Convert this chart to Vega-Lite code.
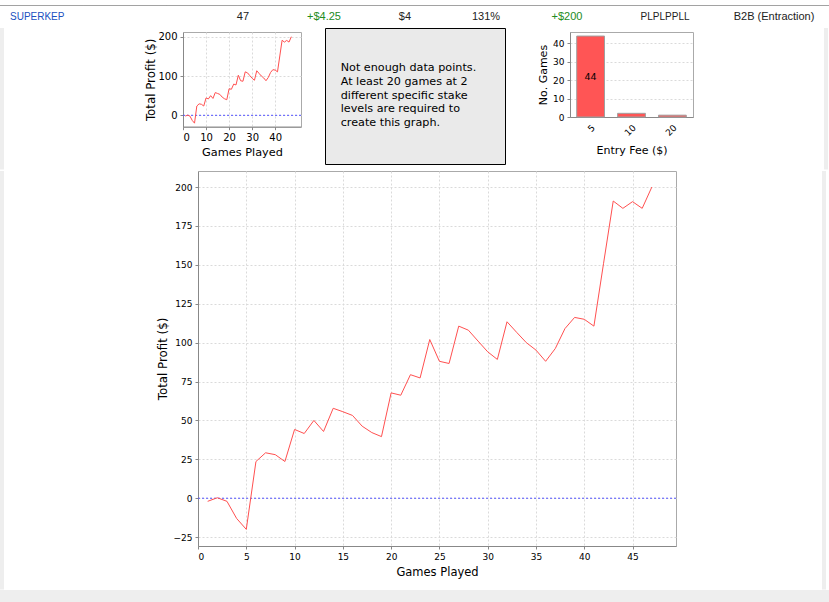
{
  "$schema": "https://vega.github.io/schema/vega-lite/v6.json",
  "background": "white",
  "padding": {"left": 0, "top": 5, "right": 0, "bottom": 0},
  "autosize": {"type": "pad"},
  "bounds": "full",
  "spacing": 0,
  "datasets": {
    "header": [
      {"column": "Player", "value": "SUPERKEP"},
      {"column": "Games", "value": "47"},
      {"column": "Avg Profit", "value": "+$4.25"},
      {"column": "Avg Stake", "value": "$4"},
      {"column": "Avg ROI", "value": "131%"},
      {"column": "Total Profit", "value": "+$200"},
      {"column": "Streak", "value": "PLPLPPLL"},
      {"column": "Site", "value": "B2B (Entraction)"}
    ],
    "msg": [
      {"message": "Not enough data points.\nAt least 20 games at 2\ndifferent specific stake\nlevels are required to\ncreate this graph."}
    ],
    "fees": [
      {"fee": 5, "games": 44},
      {"fee": 10, "games": 2},
      {"fee": 20, "games": 1}
    ],
    "profit": [
      {"game": 1, "profit": -2},
      {"game": 2, "profit": 0.3},
      {"game": 3, "profit": -2},
      {"game": 4, "profit": -13},
      {"game": 5, "profit": -20},
      {"game": 6, "profit": 23.6},
      {"game": 7, "profit": 29.2},
      {"game": 8, "profit": 28},
      {"game": 9, "profit": 23.6},
      {"game": 10, "profit": 44.2},
      {"game": 11, "profit": 41.6},
      {"game": 12, "profit": 50},
      {"game": 13, "profit": 42.9},
      {"game": 14, "profit": 57.8},
      {"game": 15, "profit": 55.6},
      {"game": 16, "profit": 53.2},
      {"game": 17, "profit": 46.3},
      {"game": 18, "profit": 42.2},
      {"game": 19, "profit": 39.6},
      {"game": 20, "profit": 67.7},
      {"game": 21, "profit": 66.2},
      {"game": 22, "profit": 79.4},
      {"game": 23, "profit": 77.3},
      {"game": 24, "profit": 102},
      {"game": 25, "profit": 88},
      {"game": 26, "profit": 86.6},
      {"game": 27, "profit": 110.6},
      {"game": 28, "profit": 108},
      {"game": 29, "profit": 101},
      {"game": 30, "profit": 94.1},
      {"game": 31, "profit": 89.2},
      {"game": 32, "profit": 113.4},
      {"game": 33, "profit": 106.6},
      {"game": 34, "profit": 100},
      {"game": 35, "profit": 95.2},
      {"game": 36, "profit": 88},
      {"game": 37, "profit": 96.2},
      {"game": 38, "profit": 109},
      {"game": 39, "profit": 116.2},
      {"game": 40, "profit": 115},
      {"game": 41, "profit": 110.6},
      {"game": 42, "profit": 151},
      {"game": 43, "profit": 191},
      {"game": 44, "profit": 186.3},
      {"game": 45, "profit": 190.6},
      {"game": 46, "profit": 186.3},
      {"game": 47, "profit": 200}
    ]
  },
  "vconcat": [
    {
      "width": 829,
      "height": 22,
      "data": {"name": "header"},
      "layer": [
        {
          "transform": [{"filter": "datum.column === 'Player'"}],
          "mark": {"type": "text", "align": "left", "baseline": "middle", "dx": 10, "dy": 0.75, "font": "Liberation Sans", "fontSize": 10, "color": "#2050C0"},
          "encoding": {
            "x": {"field": "column", "type": "nominal", "scale": {"type": "point", "padding": 0, "align": 0, "round": false}, "axis": null},
            "text": {"field": "value"}
          }
        },
        {
          "transform": [{"filter": {"field": "column", "oneOf": ["Games", "Avg Profit", "Avg Stake", "Avg ROI", "Total Profit"]}}],
          "mark": {"type": "text", "align": "center", "baseline": "middle", "dy": 0.75, "font": "Liberation Sans", "fontSize": 11},
          "encoding": {
            "x": {"field": "column", "type": "nominal", "scale": {"type": "point", "domain": ["_a", "_b", "Games", "Avg Profit", "Avg Stake", "Avg ROI", "Total Profit", "_c", "_d", "_e"], "padding": 0.617, "align": 0.81, "round": false},
              "axis": {"orient": "top", "labels": false, "ticks": false, "title": null, "grid": false, "domainDash": [1, 1], "domainColor": "#444444", "domainWidth": 1}},
            "color": {"field": "column", "type": "nominal", "scale": {"domain": ["Games", "Avg Profit", "Avg Stake", "Avg ROI", "Total Profit"], "range": ["#222222", "#228B22", "#222222", "#222222", "#228B22"]}, "legend": null},
            "text": {"field": "value"}
          }
        },
        {
          "transform": [{"filter": {"field": "column", "oneOf": ["Streak", "Site"]}}],
          "mark": {"type": "text", "align": "center", "baseline": "middle", "dy": 0.75, "font": "Liberation Sans", "color": "#222222"},
          "encoding": {
            "x": {"field": "column", "type": "nominal", "scale": {"type": "point", "domain": ["_a", "_b", "_c", "_d", "_e", "Streak", "Site"], "padding": 0.803, "align": 0.686, "round": false}, "axis": null},
            "size": {"field": "column", "type": "nominal", "scale": {"domain": ["Streak", "Site"], "range": [10, 11]}, "legend": null},
            "text": {"field": "value"}
          }
        }
      ],
      "resolve": {"scale": {"x": "independent", "color": "independent"}}
    },
    {
      "bounds": "full",
      "spacing": 0,
      "hconcat": [
        {"width": 4, "height": 141.5, "data": {"values": []}, "mark": "point", "view": {"fill": "#EEEEEE", "stroke": null}},
        {"width": 141, "height": 1, "data": {"values": []}, "mark": "point", "view": {"fill": "#FFFFFF", "stroke": null}},
        {
          "bounds": "full",
          "spacing": 2,
          "vconcat": [
            {"width": 1, "height": 1, "data": {"values": []}, "mark": "point", "view": {"fill": "#FFFFFF", "stroke": null}},
            {
              "width": 118,
              "height": 94.7,
              "view": {"stroke": "#AAAAAA"},
              "layer": [
                {
                  "data": {"values": [{"base": 0}]},
                  "mark": {"type": "rule", "color": "#5555FF", "strokeDash": [2, 2], "strokeWidth": 1},
                  "encoding": {"y": {"field": "base", "type": "quantitative", "scale": {"domain": [-29, 212], "nice": false, "zero": false}}}
                },
                {
                  "data": {"name": "profit"},
                  "mark": {"type": "line", "color": "#FF5050", "strokeWidth": 1},
                  "encoding": {
                    "x": {"field": "game", "type": "quantitative", "scale": {"domain": [0, 51.2], "nice": false, "zero": false},
                      "axis": {"values": [0, 10, 20, 30, 40], "title": "Games Played", "labelFontSize": 10, "titleFontSize": 11.3, "titlePadding": 4}},
                    "y": {"field": "profit", "type": "quantitative", "scale": {"domain": [-29, 212], "nice": false, "zero": false},
                      "axis": {"values": [0, 50, 100, 150, 200], "title": "Total Profit ($)", "labelFontSize": 10, "titleFontSize": 11.8, "titlePadding": 1}}
                  }
                }
              ]
            }
          ]
        },
        {"width": 22, "height": 1, "data": {"values": []}, "mark": "point", "view": {"fill": "#FFFFFF", "stroke": null}},
        {
          "width": 180,
          "height": 136,
          "data": {"name": "msg"},
          "view": {"fill": "#EAEAEA", "stroke": "#000000", "strokeWidth": 1},
          "mark": {"type": "text", "align": "left", "baseline": "middle", "dx": -74.3, "dy": -28, "lineBreak": "\n", "lineHeight": 13.8, "font": "DejaVu Sans", "fontSize": 11.2, "color": "#000000"},
          "encoding": {
            "text": {"field": "message"}
          }
        },
        {"width": 31, "height": 1, "data": {"values": []}, "mark": "point", "view": {"fill": "#FFFFFF", "stroke": null}},
        {
          "bounds": "full",
          "spacing": 2,
          "vconcat": [
            {"width": 1, "height": 1, "data": {"values": []}, "mark": "point", "view": {"fill": "#FFFFFF", "stroke": null}},
            {
              "width": 123,
              "height": 85,
              "data": {"name": "fees"},
              "view": {"stroke": "#AAAAAA"},
              "layer": [
                {
                  "mark": {"type": "bar", "fill": "#FF5555", "stroke": "#A0A0A0", "strokeWidth": 1},
                  "encoding": {
                    "x": {"field": "fee", "type": "ordinal", "scale": {"paddingInner": 0.32, "paddingOuter": 0.164},
                      "axis": {"title": "Entry Fee ($)", "labelAngle": -45, "labelFontSize": 9, "titleFontSize": 11, "ticks": false, "grid": false, "labelPadding": 6, "titlePadding": 7}},
                    "y": {"field": "games", "type": "quantitative", "scale": {"domain": [0, 46.2], "nice": false},
                      "axis": {"values": [0, 10, 20, 30, 40], "title": "No. Games", "labelFontSize": 9, "titleFontSize": 11, "titlePadding": 4}}
                  }
                },
                {
                  "transform": [{"filter": "datum.games > 10"}],
                  "mark": {"type": "text", "baseline": "middle", "align": "center", "fontSize": 9.5, "font": "DejaVu Sans", "color": "#000000"},
                  "encoding": {
                    "x": {"field": "fee", "type": "ordinal"},
                    "y": {"field": "games", "type": "quantitative", "scale": {"domain": [0, 92.4], "nice": false}, "axis": null},
                    "text": {"field": "games"}
                  }
                }
              ],
              "resolve": {"scale": {"y": "independent"}}
            }
          ]
        },
        {"width": 130, "height": 1, "data": {"values": []}, "mark": "point", "view": {"fill": "#FFFFFF", "stroke": null}},
        {"width": 4, "height": 141.5, "data": {"values": []}, "mark": "point", "view": {"fill": "#EEEEEE", "stroke": null}}
      ]
    },
    {
      "bounds": "full",
      "spacing": 0,
      "hconcat": [
        {"width": 4, "height": 418.5, "data": {"values": []}, "mark": "point", "view": {"fill": "#EEEEEE", "stroke": null}},
        {"width": 151.5, "height": 1, "data": {"values": []}, "mark": "point", "view": {"fill": "#FFFFFF", "stroke": null}},
        {
          "width": 478,
          "height": 375,
          "view": {"stroke": "#AAAAAA"},
          "layer": [
            {
              "data": {"values": [{"base": 0}]},
              "mark": {"type": "rule", "color": "#5555FF", "strokeDash": [2, 2], "strokeWidth": 1},
              "encoding": {"y": {"field": "base", "type": "quantitative", "scale": {"domain": [-30.7, 210.3], "nice": false, "zero": false}}}
            },
            {
              "data": {"name": "profit"},
              "mark": {"type": "line", "color": "#FF5050", "strokeWidth": 1},
              "encoding": {
                "x": {"field": "game", "type": "quantitative", "scale": {"domain": [0, 49.5], "nice": false, "zero": false},
                  "axis": {"values": [0, 5, 10, 15, 20, 25, 30, 35, 40, 45], "title": "Games Played", "labelFontSize": 9, "titleFontSize": 11.5, "titlePadding": 5}},
                "y": {"field": "profit", "type": "quantitative", "scale": {"domain": [-30.7, 210.3], "nice": false, "zero": false},
                  "axis": {"values": [-25, 0, 25, 50, 75, 100, 125, 150, 175, 200], "title": "Total Profit ($)", "labelFontSize": 9, "titleFontSize": 11.8, "titlePadding": 5}}
              }
            }
          ]
        },
        {"width": 145, "height": 1, "data": {"values": []}, "mark": "point", "view": {"fill": "#FFFFFF", "stroke": null}},
        {"width": 4, "height": 418.5, "data": {"values": []}, "mark": "point", "view": {"fill": "#EEEEEE", "stroke": null}}
      ]
    },
    {"width": 829, "height": 14, "data": {"values": []}, "mark": "point", "view": {"fill": "#EEEEEE", "stroke": null}}
  ],
  "config": {
    "view": {"stroke": null},
    "font": "DejaVu Sans",
    "axis": {
      "labelFont": "DejaVu Sans",
      "titleFont": "DejaVu Sans",
      "labelColor": "#000000",
      "titleColor": "#000000",
      "titleFontWeight": "normal",
      "domainColor": "#888888",
      "tickColor": "#888888",
      "gridColor": "#DADADA",
      "gridDash": [2, 2],
      "tickSize": 3,
      "labelPadding": 3
    }
  }
}
